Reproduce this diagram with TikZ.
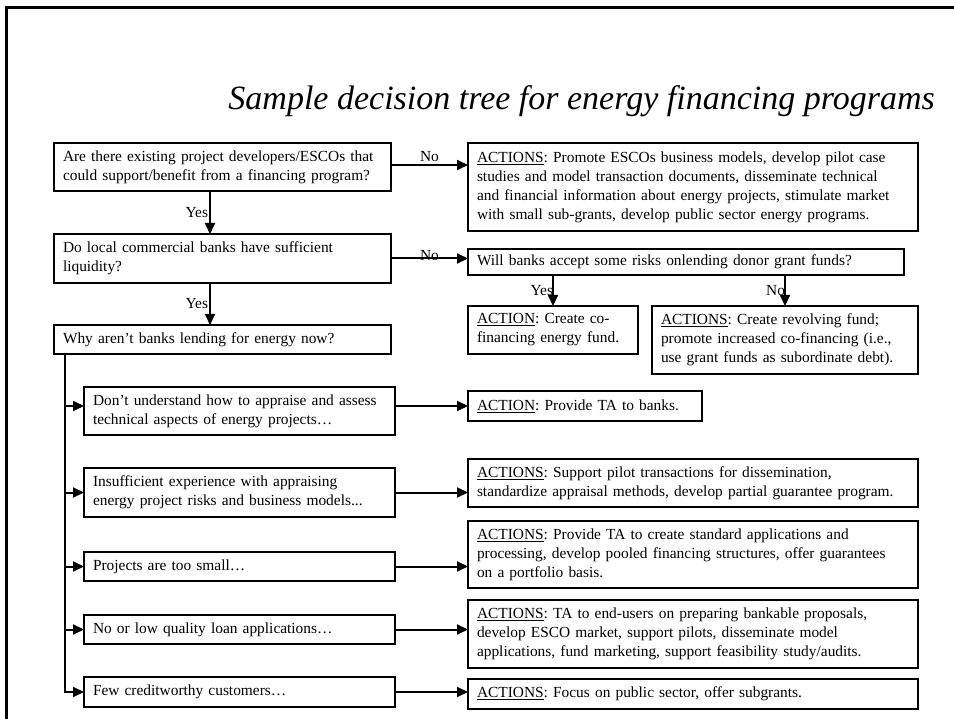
\documentclass[tikz,border=0pt]{standalone}
\usepackage{fontspec}
\setmainfont{Liberation Serif}
\usetikzlibrary{arrows.meta,calc}
\frenchspacing
\hyphenpenalty=10000
\exhyphenpenalty=10000
\begin{document}
\begin{tikzpicture}[x=1pt,y=-1pt,
  box/.style={draw,line width=2pt,anchor=north west,outer sep=0pt,inner xsep=9pt,inner ysep=2pt,align=left,font=\fontsize{15.4pt}{19pt}\selectfont},
  arr/.style={line width=2pt,-{Triangle[length=11pt,width=10pt]}},
  lbl/.style={font=\fontsize{15.4pt}{19pt}\selectfont,inner sep=1pt},
  frame/.style={line width=3pt}]
\useasboundingbox (0,0) rectangle (954,719);
\coordinate (fb) at (6,719);
\coordinate (fc) at (6,8);
\coordinate (fr) at (954,8);
\draw[frame] (fb) -- (fc) -- (fr);
\node[anchor=base east,font=\fontsize{34pt}{40pt}\selectfont\itshape,inner sep=0pt] (title) at (935,110) {Sample decision tree for energy financing programs};
% questions
\node[box,minimum width=337pt,minimum height=48pt,text width=319pt] (Q1) at (54,143) {Are there existing project developers/ESCOs that\\could support/benefit from a financing program?};
\node[box,minimum width=450pt,minimum height=88pt,text width=432pt] (A1) at (468,143) {\underline{ACTIONS}: Promote ESCOs business models, develop pilot case\\studies and model transaction documents, disseminate technical\\and financial information about energy projects, stimulate market\\with small sub-grants, develop public sector energy programs.};
\node[box,minimum width=337pt,minimum height=49pt,text width=319pt] (Q2) at (54,234) {Do local commercial banks have sufficient\\liquidity?};
\node[box,minimum width=436pt,minimum height=26pt,text width=418pt] (Q3) at (468,249) {Will banks accept some risks onlending donor grant funds?};
\node[box,minimum width=337pt,minimum height=29pt,text width=319pt] (Q4) at (54,325) {Why aren't banks lending for energy now?};
\node[box,minimum width=170pt,minimum height=48pt,text width=152pt] (A2) at (468,306) {\underline{ACTION}: Create co-\\financing energy fund.};
\node[box,minimum width=266pt,minimum height=68pt,text width=248pt] (A3) at (652,306) {\underline{ACTIONS}: Create revolving fund;\\promote increased co-financing (i.e.,\\use grant funds as subordinate debt).};
% reasons
\node[box,minimum width=311pt,minimum height=48pt,text width=293pt] (R1) at (84,387) {Don't understand how to appraise and assess\\technical aspects of energy projects…};
\node[box,minimum width=311pt,minimum height=49pt,text width=293pt] (R2) at (84,468) {Insufficient experience with appraising\\energy project risks and business models...};
\node[box,minimum width=311pt,minimum height=29pt,text width=293pt] (R3) at (84,552) {Projects are too small…};
\node[box,minimum width=311pt,minimum height=29pt,text width=293pt] (R4) at (84,615) {No or low quality loan applications…};
\node[box,minimum width=311pt,minimum height=30pt,text width=293pt] (R5) at (84,677) {Few creditworthy customers…};
% actions
\node[box,minimum width=234pt,minimum height=30pt,text width=216pt] (A4) at (468,391) {\underline{ACTION}: Provide TA to banks.};
\node[box,minimum width=450pt,minimum height=48pt,text width=432pt] (A5) at (468,459) {\underline{ACTIONS}: Support pilot transactions for dissemination,\\standardize appraisal methods, develop partial guarantee program.};
\node[box,minimum width=450pt,minimum height=67pt,text width=432pt] (A6) at (468,521) {\underline{ACTIONS}: Provide TA to create standard applications and\\processing, develop pooled financing structures, offer guarantees\\on a portfolio basis.};
\node[box,minimum width=450pt,minimum height=68pt,text width=432pt] (A7) at (468,600) {\underline{ACTIONS}: TA to end-users on preparing bankable proposals,\\develop ESCO market, support pilots, disseminate model\\applications, fund marketing, support feasibility study/audits.};
\node[box,minimum width=450pt,minimum height=30pt,text width=432pt] (A8) at (468,679) {\underline{ACTIONS}: Focus on public sector, offer subgrants.};
% connectors
\draw[arr] ([yshift=2pt]Q1.east) -- node[lbl,above=1pt]{No} ([yshift=2pt]Q1.east -| A1.west);
\draw[arr] ([xshift=156pt]Q1.south west) -- node[lbl,left]{Yes} ([xshift=156pt]Q1.south west |- Q2.north);
\draw[arr] (Q2.east) -- node[lbl,above,yshift=-4pt]{No} (Q2.east -| Q3.west);
\draw[arr] ([xshift=156pt]Q2.south west) -- node[lbl,left]{Yes} ([xshift=156pt]Q2.south west |- Q4.north);
\draw[arr] (A2.north |- Q3.south) -- node[lbl,left,inner sep=0pt,xshift=1pt]{Yes} (A2.north);
\draw[arr] (A3.north |- Q3.south) -- node[lbl,left,inner sep=0pt,xshift=1pt]{No} (A3.north);
\coordinate (trunk) at ([xshift=11pt]Q4.south west);
\draw[arr] (trunk) |- (R5.west);
\draw[arr] (trunk |- A4.west) -- (A4.west -| R1.west);
\draw[arr] (trunk |- R2.west) -- (R2.west);
\draw[arr] (trunk |- R3.west) -- (R3.west);
\draw[arr] (trunk |- R4.west) -- (R4.west);
\draw[arr] (R1.east |- A4.west) -- (A4.west);
\draw[arr] (R2.east) -- (R2.east -| A5.west);
\draw[arr] (R3.east) -- (R3.east -| A6.west);
\draw[arr] (R4.east) -- (R4.east -| A7.west);
\draw[arr] (R5.east) -- (R5.east -| A8.west);
\end{tikzpicture}
\end{document}
